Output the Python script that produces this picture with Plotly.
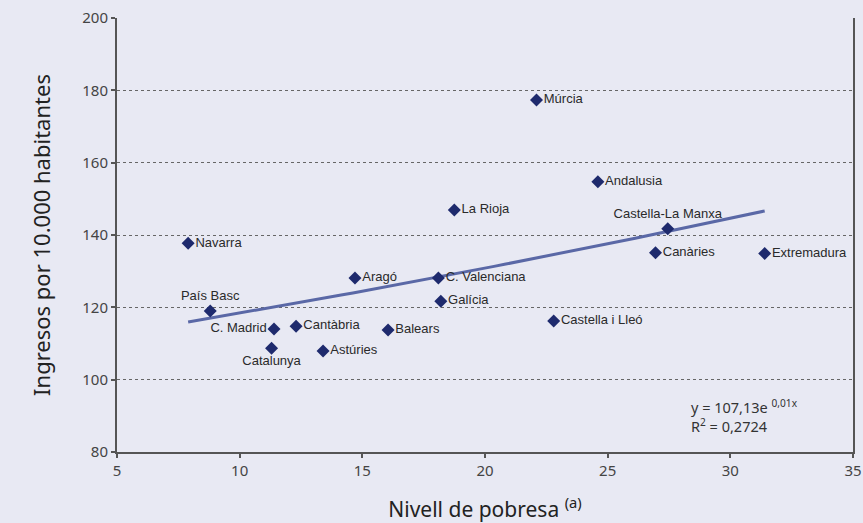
import numpy as np
import plotly.graph_objects as go

# Regional data
regions = ['Navarra', 'País Basc', 'C. Madrid', 'Catalunya', 'Cantàbria', 'Astúries',
           'Balears', 'Aragó', 'C. Valenciana', 'Galícia', 'La Rioja', 'Múrcia',
           'Andalusia', 'Castella i Lleó', 'Castella-La Manxa', 'Canàries', 'Extremadura']
poverty = [7.9, 8.8, 11.4, 11.3, 12.3, 13.4, 16.05, 14.7, 18.1, 18.2, 18.75, 22.1,
           24.6, 22.8, 27.45, 26.95, 31.4]
income = [137.7, 119.0, 114.0, 108.7, 114.8, 107.9, 113.7, 128.1, 128.1, 121.7, 146.9,
          177.3, 154.7, 116.2, 141.7, 135.1, 134.9]
label_pos = ['middle right', 'top center', 'middle left', 'bottom center', 'middle right',
             'middle right', 'middle right', 'middle right', 'middle right', 'middle right',
             'middle right', 'middle right', 'middle right', 'middle right', 'top center',
             'middle right', 'middle right']

# Exponential trend reported on the chart: y = 107,13 e^(0,01x)
trend_a = 107.13
trend_b = 0.01

BG = '#e8e9f3'
AXIS = '#555555'

trend_x = np.linspace(min(poverty), max(poverty), 50)
trend_y = trend_a * np.exp(trend_b * trend_x)

fig = go.Figure()

fig.add_trace(go.Scatter(
    x=trend_x, y=trend_y, mode='lines',
    line=dict(color='#5a68a6', width=3),
    hoverinfo='skip', showlegend=False
))

fig.add_trace(go.Scatter(
    x=poverty, y=income, mode='markers+text',
    marker=dict(symbol='diamond', size=10, color='#1e2a6d'),
    text=regions, textposition=label_pos,
    textfont=dict(family='Liberation Sans, Arial, sans-serif', size=13, color='#2a2a2a'),
    showlegend=False
))

fig.add_annotation(
    x=28.3, y=90, xref='x', yref='y', xanchor='left', yanchor='middle',
    text='y = 107,13e <sup>0,01x</sup><br>R<sup>2</sup> = 0,2724',
    showarrow=False, align='left',
    font=dict(family='Noto Sans, sans-serif', size=14.5, color='#333333')
)

fig.update_layout(
    width=863, height=523,
    paper_bgcolor=BG, plot_bgcolor=BG,
    margin=dict(l=117, r=10, t=18, b=71),
    font=dict(family='Noto Sans, sans-serif', color='#333333'),
    xaxis=dict(
        range=[5, 35], tickvals=[5, 10, 15, 20, 25, 30, 35],
        showgrid=False, zeroline=False, automargin=False,
        showline=True, linecolor=AXIS, linewidth=2,
        ticks='outside', ticklen=4, tickcolor=AXIS, tickwidth=2,
        tickfont=dict(size=15, color='#444444'),
        title=dict(text='Nivell de pobresa <sup>(a)</sup>', font=dict(size=21, color='#222222'),
                   standoff=24)
    ),
    yaxis=dict(
        range=[80, 200], tickvals=[80, 100, 120, 140, 160, 180, 200],
        showgrid=True, gridcolor='#666666', griddash='dot', gridwidth=1,
        zeroline=False, automargin=False,
        showline=True, linecolor=AXIS, linewidth=2, mirror=True,
        ticks='outside', ticklen=4, tickcolor=AXIS, tickwidth=2,
        tickfont=dict(size=15, color='#444444'),
        title=dict(text='Ingresos por 10.000 habitantes', font=dict(size=22, color='#222222'),
                   standoff=26)
    ),
)

# drop the default page margin so the figure fills the window exactly
fig.write_html("out.html", config={'displayModeBar': False},
               post_script="document.body.style.margin='0';")
